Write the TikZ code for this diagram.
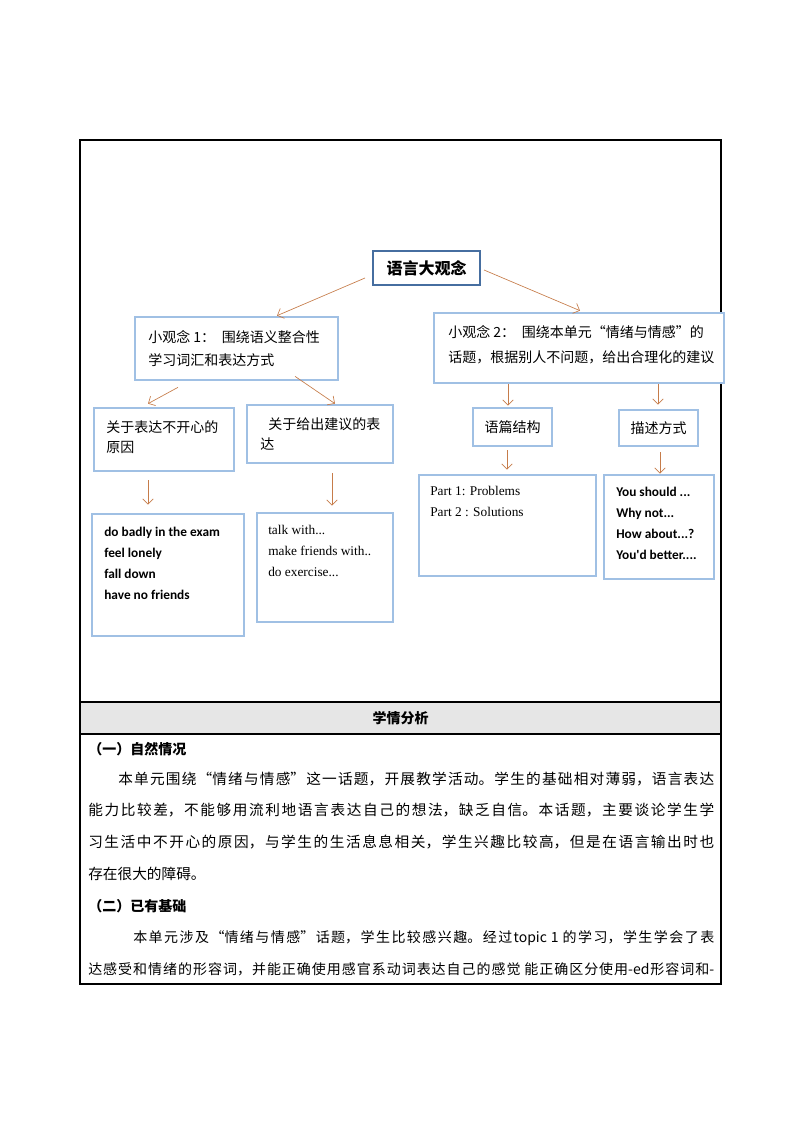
\documentclass[tikz,border=0pt]{standalone}
\usepackage{fontspec}
\setmainfont{Liberation Serif}
\newfontfamily\cjk{Noto Sans CJK SC}
\newfontfamily\carlito{Carlito}
\usetikzlibrary{arrows.meta}

\XeTeXlinebreaklocale "zh"
\XeTeXlinebreakskip=0pt plus 2pt
\tolerance=9999

\definecolor{boxline}{RGB}{88,112,150}
\definecolor{boxinner}{RGB}{160,192,228}
\definecolor{rootline}{RGB}{70,110,160}
\definecolor{arrowc}{RGB}{198,124,74}
\definecolor{bandgray}{RGB}{230,230,230}

\newdimen\px \px=0.75pt

\tikzset{
	ideabox/.style={draw=boxline, double=boxinner, double distance=1pt, line width=0.5pt, fill=white, inner sep=0pt},
	rootbox/.style={draw=rootline, line width=1.5pt, fill=white, inner sep=0pt},
	boxtext/.style={inner sep=0pt, anchor=north west, align=left},
	para/.style={inner sep=0pt, anchor=north west, text width=626\px, align=justify},
	cjkbody/.style={font=\cjk\fontsize{10.5}{15}\selectfont},
	listbold/.style={font=\carlito\bfseries\fontsize{10}{15.6}\selectfont},
	listserif/.style={font=\fontsize{10}{15.7}\selectfont}
}

\begin{document}
\begin{tikzpicture}[x=0.75pt, y=-0.75pt, >={Straight Barb[length=4pt,width=8pt]}]
	\useasboundingbox (0,0) rectangle (794,1123);

	% Table frame
	\fill [bandgray] (80,702) rectangle (721,734);
	\draw [line width=0.8pt] (80,140) rectangle (721,984);
	\draw [line width=0.8pt] (80,702) -- (721,702)
				(80,734) -- (721,734);

	% Nodes {root, ideas, sub topics}
	\node [rootbox, minimum width=107\px, minimum height=34\px, font=\cjk\bfseries\fontsize{12}{14}\selectfont] (root) at (426.5,268) {语言大观念};
	\node [ideabox, minimum width=203\px, minimum height=63\px] (idea1) at (236.5,348.5) {};
	\node [ideabox, minimum width=290\px, minimum height=70\px] (idea2) at (579,348) {};
	\node [ideabox, minimum width=140\px, minimum height=63\px] (why) at (164,439.5) {};
	\node [ideabox, minimum width=146\px, minimum height=58\px] (advice) at (320,434) {};
	\node [ideabox, minimum width=79\px, minimum height=38\px, cjkbody] (struct) at (512.5,427) {语篇结构};
	\node [ideabox, minimum width=79\px, minimum height=36\px, cjkbody] (way) at (658.5,428) {描述方式};

	% Nodes {lists}
	\node [ideabox, minimum width=152\px, minimum height=122\px] (whylist) at (168,575) {};
	\node [ideabox, minimum width=136\px, minimum height=109\px] (advlist) at (325,567.5) {};
	\node [ideabox, minimum width=177\px, minimum height=101\px] (parts) at (507.5,525.5) {};
	\node [ideabox, minimum width=110\px, minimum height=104\px] (phrases) at (659,527) {};

	% Texts in the boxes
	\node [boxtext, font=\cjk\fontsize{10.5}{17.25}\selectfont] (idea1 text) at (148,330) {小观念 1：\hspace{5pt}围绕语义整合性\\学习词汇和表达方式};
	\node [boxtext, font=\cjk\fontsize{10.5}{18.75}\selectfont] (idea2 text) at (448,325) {小观念 2：\hspace{5pt}围绕本单元“情绪与情感”的\\话题，根据别人不问题，给出合理化的建议};
	\node [boxtext, cjkbody] (why text) at (106,420) {关于表达不开心的\\原因};
	\node [boxtext, cjkbody] (advice text) at (260,417) {\hspace{6pt}关于给出建议的表\\达};
	\node [boxtext, listbold] (whylist text) at (104,527) {do badly in the exam\\feel lonely\\fall down\\have no friends};
	\node [boxtext, listserif] (advlist text) at (268,525) {talk with...\\make friends with..\\do exercise...};
	\node [boxtext, listserif] (parts text) at (430,486) {Part 1: Problems\\Part 2 : Solutions};
	\node [boxtext, listbold] (phrases text) at (616,487) {You should ...\\Why not...\\How about...?\\You'd better....};

	% Paths {(root,idea1), (root,idea2), (idea1,why), (idea1,advice), (idea2,struct), (idea2,way), ...}
	\path [->, color=arrowc, line width=0.5pt]
				([shift={(-7,10)}]root.west) edge ([shift={(40.5,-1)}]idea1.north)
				([shift={(3,2)}]root.east) edge ([shift={(1,-2)}]idea2.north)
				([shift={(-58.5,7)}]idea1.south) edge ([shift={(-16,-4)}]why.north)
				([shift={(58.5,-4)}]idea1.south) edge ([shift={(15,-1)}]advice.north)
				([shift={(-71,1)}]idea2.south) edge ([shift={(-4.5,-2)}]struct.north)
				([shift={(79,1)}]idea2.south) edge ([shift={(-0.5,-5)}]way.north)
				([shift={(-5.5,4)}]struct.south) edge ([shift={(-0.5,-5)}]parts.north)
				([shift={(1.5,6)}]way.south) edge ([shift={(1,-1)}]phrases.north)
				([shift={(-16,9)}]why.south) edge ([shift={(-20,-9)}]whylist.north)
				([shift={(12,10)}]advice.south) edge ([shift={(7,-7)}]advlist.north);

	% Lower part of the table
	\node [font=\cjk\bfseries\fontsize{10.5}{12}\selectfont] (analysis) at (400.5,718) {学情分析};
	\node [anchor=west, inner sep=0pt, font=\cjk\bfseries\fontsize{10.5}{12}\selectfont] (head1) at (88,749) {（一）自然情况};
	\node [para, font=\cjk\fontsize{11}{23.8}\selectfont] (situation) at (88,771.5) {\hspace*{30\px}本单元围绕“情绪与情感”这一话题，开展教学活动。学生的基础相对薄弱，语言表达\linebreak
	能力比较差，不能够用流利地语言表达自己的想法，缺乏自信。本话题，主要谈论学生学\linebreak
	习生活中不开心的原因，与学生的生活息息相关，学生兴趣比较高，但是在语言输出时也\linebreak
	存在很大的障碍。};
	\node [anchor=west, inner sep=0pt, font=\cjk\bfseries\fontsize{10.5}{12}\selectfont] (head2) at (88,906) {（二）已有基础};
	\node [para, font=\cjk\fontsize{10.5}{24}\selectfont] (basis) at (88,930) {\hspace*{45\px}本单元涉及“情绪与情感”话题，学生比较感兴趣。经过topic 1 的学习，学生学会了表\linebreak
	达感受和情绪的形容词，并能正确使用感官系动词表达自己的感觉 能正确区分使用-ed形容词和-{\parfillskip=0pt\par}};
\end{tikzpicture}
\end{document}
